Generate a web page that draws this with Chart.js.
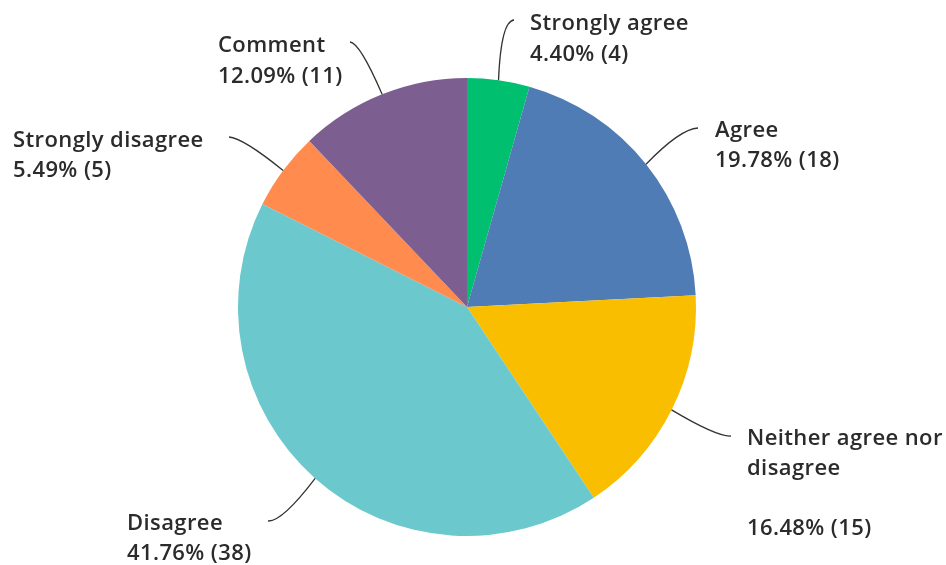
<!DOCTYPE html>
<html>
<head>
<meta charset="utf-8">
<script src="https://cdn.jsdelivr.net/npm/chart.js@4"></script>
<style>
  html, body { margin: 0; padding: 0; background: #fff; }
  #wrap { width: 946px; height: 565px; }
</style>
</head>
<body>
<div id="wrap"><canvas id="myChart" width="946" height="565"></canvas></div>
<script>
'use strict';

// survey answers, clockwise from the top
var categories = ['Strongly agree', 'Agree', 'Neither agree nor disagree', 'Disagree', 'Strongly disagree', 'Comment'];
var counts = [4, 18, 15, 38, 5, 11];
var colors = ['#00bf6f', '#507cb6', '#f9be00', '#6bc8cd', '#ff8b4f', '#7d5e90'];

// where each label sits: text lines, text x, first baseline, line gap, leader end
var labelLines = [
  ['Strongly agree'],
  ['Agree'],
  ['Neither agree nor', 'disagree', ''],
  ['Disagree'],
  ['Strongly disagree'],
  ['Comment']
];
var labelPos = [
  { x: 530, y: 30, gap: 31, endX: 514, endY: 20, bend: 13 },
  { x: 715, y: 137, gap: 30, endX: 698, endY: 128, bend: 18 },
  { x: 747, y: 445, gap: 30, endX: 731, endY: 436, bend: 14 },
  { x: 127, y: 530, gap: 30, endX: 268, endY: 521, bend: -14 },
  { x: 13, y: 147, gap: 30, endX: 229, endY: 137, bend: -14 },
  { x: 218, y: 52, gap: 31, endX: 350, endY: 42, bend: -10 }
];

var total = counts.reduce(function (a, b) { return a + b; }, 0);

// ------------------- labels with curved leader lines -------------------
var leaderLabels = {
  id: 'leaderLabels',
  afterDatasetsDraw: function (chart) {
    var ctx = chart.ctx;
    var arcs = chart.getDatasetMeta(0).data;
    ctx.save();
    for (var i = 0; i < arcs.length; i++) {
      var p = arcs[i].getProps(['x', 'y', 'startAngle', 'endAngle', 'outerRadius']);
      var mid = (p.startAngle + p.endAngle) / 2;
      var sx = p.x + Math.cos(mid) * p.outerRadius;
      var sy = p.y + Math.sin(mid) * p.outerRadius;
      var pos = labelPos[i];

      ctx.beginPath();
      ctx.moveTo(sx, sy);
      ctx.quadraticCurveTo(pos.endX - pos.bend, pos.endY + 1, pos.endX, pos.endY);
      ctx.strokeStyle = '#333333';
      ctx.lineWidth = 1.3;
      ctx.stroke();

      var pct = (counts[i] / total * 100).toFixed(2) + '% (' + counts[i] + ')';
      var lines = labelLines[i].concat([pct]);
      ctx.fillStyle = '#2b2b2b';
      ctx.font = '600 22px "Open Sans", sans-serif';
      ctx.letterSpacing = '0.4px';
      ctx.textAlign = 'left';
      ctx.textBaseline = 'alphabetic';
      for (var j = 0; j < lines.length; j++) {
        ctx.fillText(lines[j], pos.x, pos.y + j * pos.gap);
      }
    }
    ctx.restore();
  }
};

var ctx = document.getElementById('myChart').getContext('2d');
var chart = new Chart(ctx, {
  type: 'pie',
  data: {
    labels: categories,
    datasets: [
      {
        data: counts,
        backgroundColor: colors,
        borderWidth: 0
      }
    ]
  },
  options: {
    responsive: false,
    animation: false,
    layout: {
      padding: { top: 78, bottom: 29, left: 238, right: 250 }
    },
    plugins: {
      legend: { display: false },
      tooltip: { enabled: false }
    }
  },
  plugins: [leaderLabels]
});
</script>
</body>
</html>
